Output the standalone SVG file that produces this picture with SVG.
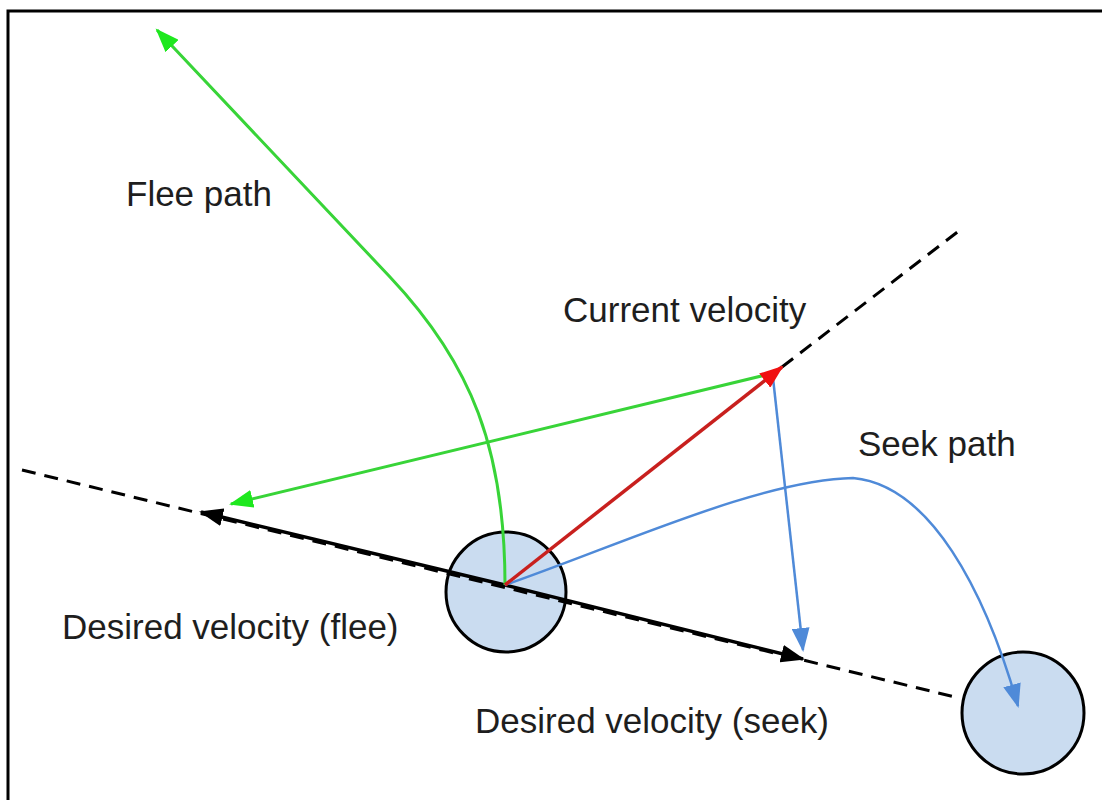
<svg xmlns="http://www.w3.org/2000/svg" width="1102" height="800" viewBox="0 0 1102 800">
<style>
.lbl{font-family:"Liberation Sans",Arial,sans-serif;font-size:35px;fill:#1e1e1e}
.dash{stroke:#000;stroke-width:3;stroke-dasharray:14 9;fill:none}
.node{fill:#cadcf0;stroke:#000;stroke-width:3}
.g{stroke:#38d438;stroke-width:3;fill:none}
.b{stroke:#4f8ad8;stroke-width:2.5;fill:none}
.r{stroke:#c8201e;stroke-width:3.5;fill:none}
.k{stroke:#000;stroke-width:3.5;fill:none}
</style>
<defs>
<marker id="ag" markerUnits="userSpaceOnUse" markerWidth="26" markerHeight="18" refX="22" refY="9" orient="auto"><path d="M0,0 L24,9 L0,18 z" fill="#1ee81e"/></marker>
<marker id="ab" markerUnits="userSpaceOnUse" markerWidth="26" markerHeight="18" refX="22" refY="9" orient="auto"><path d="M0,0 L24,9 L0,18 z" fill="#4f8ad8"/></marker>
<marker id="ar" markerUnits="userSpaceOnUse" markerWidth="26" markerHeight="18" refX="22" refY="9" orient="auto"><path d="M0,0 L24,9 L0,18 z" fill="#f01010"/></marker>
<marker id="ak" markerUnits="userSpaceOnUse" markerWidth="26" markerHeight="18" refX="22" refY="9" orient="auto"><path d="M0,0 L24,9 L0,18 z" fill="#000"/></marker>
</defs>
<rect width="1102" height="800" fill="#fff"/>
<path d="M8,800 L8,11 L1102,11" fill="none" stroke="#000" stroke-width="3"/>
<g id="agent"><circle class="node" cx="506" cy="592" r="60"/></g>
<g id="target"><circle class="node" cx="1023" cy="713" r="61"/></g>
<g id="connectors">
<line class="dash" x1="22" y1="470" x2="955" y2="697"/>
<line class="dash" x1="782" y1="367" x2="960" y2="230"/>
<line class="k" x1="505" y1="585" x2="201" y2="512" marker-end="url(#ak)"/>
<line class="k" x1="505" y1="585" x2="803" y2="659" marker-end="url(#ak)"/>
<path class="g" d="M505,585 C505,450 472,364 390,277 L157,30" marker-end="url(#ag)"/>
<line class="g" x1="774" y1="373" x2="231" y2="504" marker-end="url(#ag)"/>
<path class="b" d="M505,585 C620,545 760,480 853,478 C930,485 985,590 1018,706" marker-end="url(#ab)"/>
<line class="b" x1="773" y1="378" x2="803" y2="650" marker-end="url(#ab)"/>
<line class="r" x1="505" y1="585" x2="782" y2="367" marker-end="url(#ar)"/>
</g>
<g id="labels">
<text class="lbl" x="126" y="206">Flee path</text>
<text class="lbl" x="563" y="322">Current velocity</text>
<text class="lbl" x="858" y="456">Seek path</text>
<text class="lbl" x="62" y="639">Desired velocity (flee)</text>
<text class="lbl" x="475" y="733">Desired velocity (seek)</text>
</g>
</svg>
